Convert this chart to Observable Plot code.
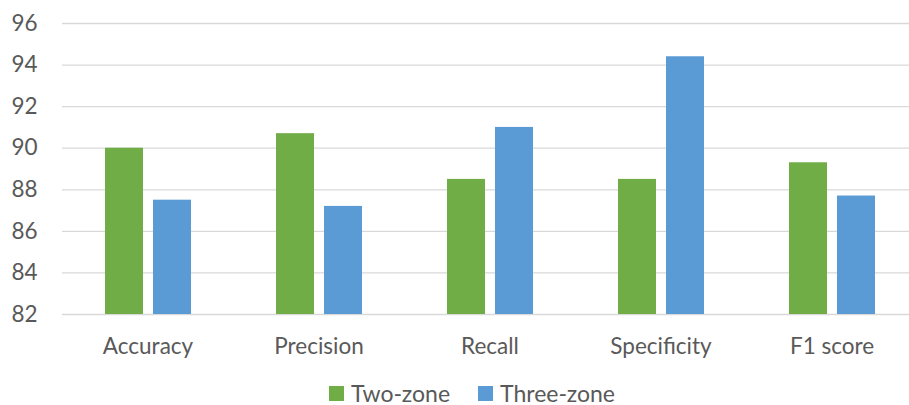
<!DOCTYPE html>
<html>
<head>
<meta charset="utf-8">
<script src="https://cdn.jsdelivr.net/npm/d3@7"></script>
<script src="https://cdn.jsdelivr.net/npm/@observablehq/plot@0.6"></script>
<style>
  html, body { margin: 0; padding: 0; background: #fff; overflow: hidden; }
  #chart svg { display: block; overflow: hidden; }
  .legend { display: flex; align-items: center; height: 42px; padding-left: 329px; line-height: 1;
            font-family: Lato, sans-serif; font-size: 23px; color: #595959; }
  .sw { width: 15px; height: 15px; display: inline-block; margin-right: 7px; }
  .item { display: flex; align-items: center; margin-right: 28px; }
</style>
</head>
<body>
<div id="chart"></div>
<script>
const categories = ["Accuracy", "Precision", "Recall", "Specificity", "F1 score"];
const series = ["Two-zone", "Three-zone"];
const twoZone = [90.0, 90.7, 88.5, 88.5, 89.3];
const threeZone = [87.5, 87.2, 91.0, 94.4, 87.7];
const yTicks = [82, 84, 86, 88, 90, 92, 94, 96];
const colors = ["#70AD47", "#5B9BD5"];

const data = categories.flatMap((c, i) => [
  {cat: c, series: series[0], value: twoZone[i]},
  {cat: c, series: series[1], value: threeZone[i]}
]);
const yMin = yTicks[0], yMax = yTicks[yTicks.length - 1];

const chart = Plot.plot({
  width: 909,
  height: 372,
  marginLeft: 60,
  marginRight: -10,
  marginTop: 23,
  marginBottom: 58,
  style: {fontFamily: "Lato, sans-serif", fontSize: "22.5px", color: "#595959", background: "#fff"},
  fx: {domain: categories, padding: 0, label: null},
  x: {domain: series, axis: null, paddingInner: 0.21, paddingOuter: 0.857},
  y: {domain: [yMin, yMax]},
  color: {domain: series, range: colors},
  marks: [
    Plot.gridY(yTicks, {stroke: "#d9d9d9", strokeOpacity: 1, strokeWidth: 1.3}),
    Plot.axisY(yTicks, {tickSize: 0, tickPadding: 25, label: null, fill: "#595959", fontSize: 22.5}),
    Plot.axisFx({anchor: "bottom", tickSize: 0, tickPadding: 24, label: null, fill: "#595959", fontSize: 22.5}),
    Plot.barY(data, {fx: "cat", x: "series", y1: yMin, y2: "value", fill: "series"})
  ]
});
document.getElementById("chart").appendChild(chart);

const legend = document.createElement("div");
legend.className = "legend";
series.forEach((s, i) => {
  const item = document.createElement("span");
  item.className = "item";
  const sw = document.createElement("span");
  sw.className = "sw";
  sw.style.background = colors[i];
  item.appendChild(sw);
  item.appendChild(document.createTextNode(s));
  legend.appendChild(item);
});
document.body.appendChild(legend);
</script>
</body>
</html>
